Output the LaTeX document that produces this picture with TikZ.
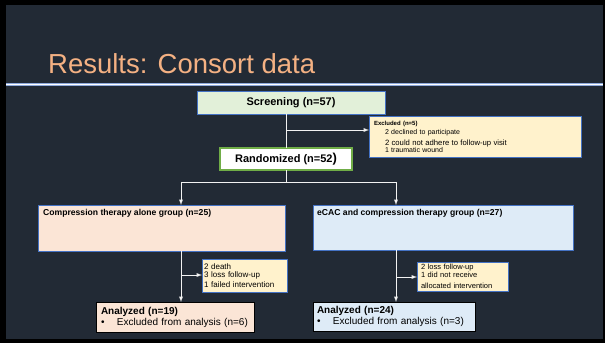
\documentclass[tikz,border=0pt]{standalone}
\usepackage{fontspec}
\setmainfont{Liberation Sans}
\usepackage{tikz}
\usetikzlibrary{positioning}
\definecolor{slidebg}{HTML}{222A35}
\definecolor{titleorange}{HTML}{F4B183}
\definecolor{rulebl}{HTML}{8FAADC}
\definecolor{boxblue}{HTML}{4472C4}
\definecolor{boxgreen}{HTML}{70AD47}
\definecolor{fillgreen}{HTML}{E2F0D9}
\definecolor{fillyellow}{HTML}{FFF2CC}
\definecolor{fillpeach}{HTML}{FBE5D6}
\definecolor{fillsky}{HTML}{DEEBF7}
\definecolor{flowline}{HTML}{F2F2F2}
\newcommand{\fsz}[1]{\fontsize{#1}{#1}\selectfont}
\newcommand{\excl}{\makebox[16pt][l]{\textbullet}Excluded from analysis}

\begin{document}
\begin{tikzpicture}[>=latex, x=1pt, y=-1pt]

                \tikzset{% This is the style settings for the boxes
                    flowbox/.style={rectangle,draw=boxblue,line width=0.8pt,fill=#1,anchor=north west,
                                        inner sep=0pt,outer sep=0pt,text=black},
                    flowbox/.default=white,
                    sidebox/.style={flowbox=fillyellow,align=left,font=\fsz{7}},
                    analyzed/.style={flowbox=#1,draw=black,align=left,inner xsep=5pt,font=\fontsize{10}{11}\selectfont},
                    grouptitle/.style={anchor=base west,inner sep=0pt,text=black,font=\bfseries\fsz{8.6}},
                    connector/.style={draw=flowline,line width=0.9pt}}

                    \useasboundingbox (0,0) rectangle (605,343);
                    \fill [black] (0,0) rectangle (605,343);
                    \fill [slidebg] (6,5) rectangle (603,339);
                    \draw [rulebl,line width=2.6pt] (6,84.7) -- (603,84.7);
                    \draw [white,line width=0.8pt] (6,84.7) -- (603,84.7);

                    \node [anchor=base west,inner sep=0pt,text=titleorange,font=\fsz{27.5}](title) at (48,73) {Results: Consort data};

                    \node [flowbox=fillgreen,minimum width=188,minimum height=23,font=\bfseries\fsz{11}](screen) at (197,91) {Screening (n=57)};
                    \node [sidebox,minimum width=212,minimum height=41,text width=202,inner xsep=5pt](excl) at (369,116)
                        {\textbf{\fsz{6}Excluded (n=5)}\\[2pt]
                         \hspace*{11pt}2 declined to participate\\[3pt]
                         \hspace*{11pt}{\fsz{7.7}2 could not adhere to follow-up visit}\\
                         \hspace*{11pt}1 traumatic wound};
                    \node [flowbox,draw=boxgreen,line width=1.3pt,minimum width=132,minimum height=22,font=\bfseries\fsz{11}](rand) at (220,148)
                        {Randomized (n=52{\fsz{13})}};

                    \node [flowbox=fillpeach,minimum width=247,minimum height=46](ctrl) at (38,205) {};
                    \node [grouptitle](ctrl_t) at ([shift={(5,10)}]ctrl.north west) {Compression therapy alone group (n=25)};
                    \node [flowbox=fillsky,minimum width=260,minimum height=45](ecac) at (313,205) {};
                    \node [grouptitle](ecac_t) at ([shift={(4,10)}]ecac.north west) {eCAC and compression therapy group (n=27)};

                    \node [sidebox,minimum width=85,minimum height=33,text width=81,inner xsep=2pt,font=\fsz{8}](loss_c) at (202,259)
                        {2 death\\3 loss follow-up\\[2pt]1 failed intervention};
                    \node [sidebox,minimum width=91,minimum height=29,text width=83,inner xsep=4pt,font=\fsz{7.5}](loss_e) at (417,262)
                        {2 loss follow-up\\1 did not receive\\[3.5pt]allocated intervention};

                    \node [analyzed=fillpeach,minimum width=158,minimum height=30,text width=148](ana_c) at (96,302)
                        {\textbf{Analyzed (n=19)}\\\excl{} (n=6)};
                    \node [analyzed=fillsky,minimum width=162,minimum height=29,text width=154,inner xsep=4pt](ana_e) at (313,302)
                        {\textbf{Analyzed (n=24)}\\\excl{} (n=3)};

                    \coordinate (split_x) at (286,130);
                    \coordinate (split_r) at (286,182);
                    \coordinate (down_c) at (181,182);
                    \coordinate (down_e) at (396,182);
                    \coordinate (split_c) at (181,275);
                    \coordinate (split_e) at (396,277);

                    \draw [connector] (screen.south -| rand.north) -- (rand.north);
                    \draw [connector,->] (split_x) -- (split_x -| excl.west);

                    \draw [connector] (rand.south) -- (split_r);
                    \draw [connector] (down_c) -- (down_e);
                    \draw [connector,->] (down_c) -- (down_c |- ctrl.north);
                    \draw [connector,->] (down_e) -- (down_e |- ecac.north);

                    \draw [connector,->] (down_c |- ctrl.south) -- (down_c |- ana_c.north);
                    \draw [connector,->] (split_c) -- (split_c -| loss_c.west);
                    \draw [connector,->] (down_e |- ecac.south) -- (down_e |- ana_e.north);
                    \draw [connector,->] (split_e) -- (split_e -| loss_e.west);

            \end{tikzpicture}
\end{document}
